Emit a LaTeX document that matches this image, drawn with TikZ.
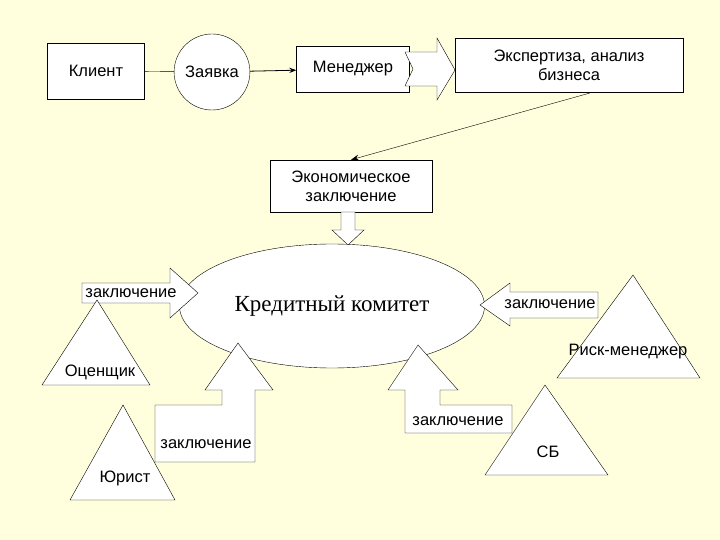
\documentclass[tikz,border=0pt]{standalone}
\usepackage{fontspec}
\setmainfont{Liberation Sans}
\newfontfamily\serifx{Liberation Serif}
\usetikzlibrary{arrows.meta,shapes.geometric}
\definecolor{bg}{RGB}{255,255,222}
\begin{document}
\begin{tikzpicture}[x=1pt,y=-1pt,
  box/.style={draw,fill=white,align=center,inner sep=1pt,font=\fontsize{16.5}{19}\selectfont},
  lbl/.style={font=\fontsize{16.5}{19}\selectfont,inner sep=0pt},
  shp/.style={draw,fill=white}]
\fill[bg] (0,0) rectangle (720,540);
\useasboundingbox (0,0) rectangle (720,540);
% top row
\node[box,minimum width=97,minimum height=56] (klient) at (96,71) {Клиент};
\node[shp,ellipse,inner sep=0pt,minimum width=66,minimum height=76,font=\fontsize{16.5}{19}\selectfont] (zayavka) at (212,72) {Заявка};
\draw (klient) -- (zayavka);
\node[box,minimum width=113,minimum height=46] (menedzher) at (353,69) {Менеджер};
\draw[thick,-{Stealth[length=7pt]}] (zayavka) -- (menedzher);
\draw[shp] (405,52) -- (437,52) -- (437,38) -- (455,70) -- (437,100) -- (437,86) -- (405,86) -- (413,69) -- cycle;
\node[box,minimum width=228,minimum height=54] (expert) at (569,65) {Экспертиза, анализ\\бизнеса};
\node[box,minimum width=162,minimum height=52] (econ) at (351,186) {Экономическое\\заключение};
\draw[-{Stealth[length=8pt]}] (590,93) -- (econ.north);
\draw[shp] (341,212) -- (355,212) -- (355,230) -- (364,230) -- (348,245) -- (332,230) -- (341,230) -- cycle;
% committee
\node[shp,ellipse,minimum width=305,minimum height=124,font=\serifx\fontsize{23}{27}\selectfont] (kk) at (332,306) {Кредитный комитет};
% left
\draw[shp] (82,283) -- (170,283) -- (170,268) -- (198,293) -- (170,318) -- (170,303) -- (82,303) -- cycle;
\node[lbl] (z1) at (131,293) {заключение};
\draw[shp] (97,300) -- (150,385) -- (42,385) -- cycle;
\node[lbl] (ocen) at (100,372) {Оценщик};
\draw[shp] (123,405) -- (175,500) -- (70,500) -- cycle;
\node[lbl] (yurist) at (125,478) {Юрист};
\draw[shp] (155,462) -- (255,462) -- (255,390) -- (273,390) -- (238,343) -- (205,390) -- (222,390) -- (222,405) -- (155,405) -- cycle;
\node[lbl] (z2) at (206,444) {заключение};
% right
\draw[shp] (598,292) -- (510,292) -- (510,283) -- (480,305) -- (510,326) -- (510,318) -- (598,318) -- cycle;
\node[lbl] (z3) at (550,304) {заключение};
\draw[shp] (633,275) -- (700,378) -- (557,378) -- cycle;
\node[lbl] (risk) at (628,352) {Риск-менеджер};
\draw[shp] (405,433) -- (512,433) -- (512,405) -- (440,405) -- (440,390) -- (458,390) -- (418,345) -- (388,390) -- (405,390) -- cycle;
\node[lbl] (z4) at (458,421) {заключение};
\draw[shp] (545,385) -- (608,475) -- (485,475) -- cycle;
\node[lbl] (sb) at (548,452) {СБ};
\end{tikzpicture}
\end{document}
